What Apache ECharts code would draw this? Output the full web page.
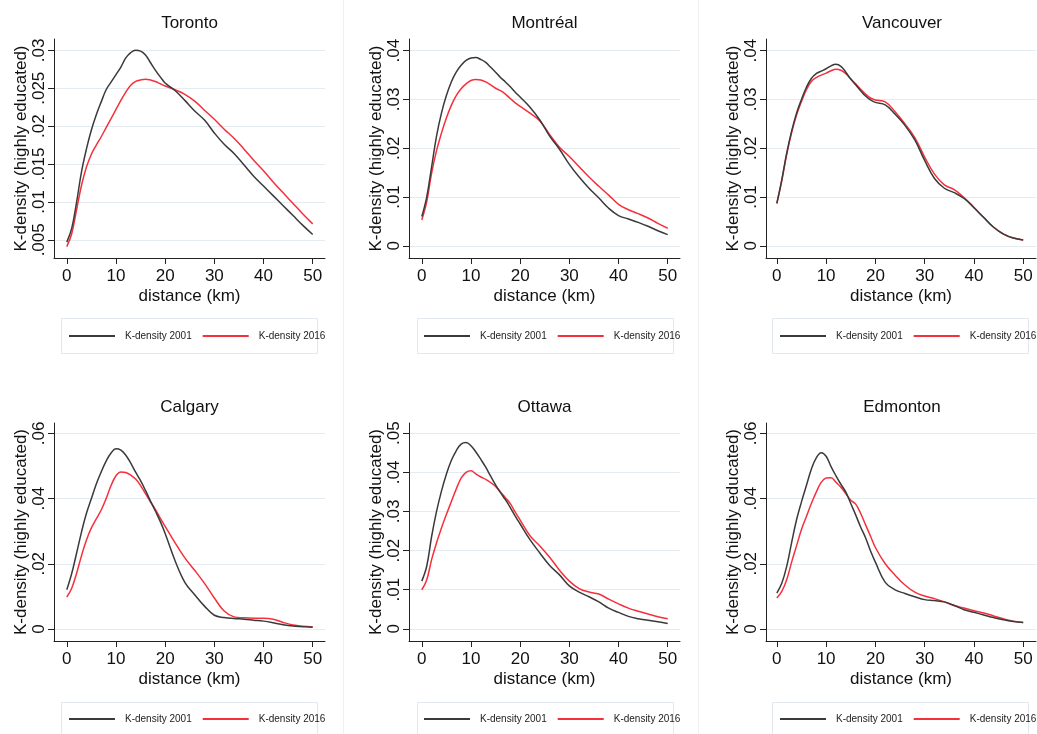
<!DOCTYPE html>
<html>
<head>
<meta charset="utf-8">
<script src="https://cdn.jsdelivr.net/npm/echarts@6/dist/echarts.min.js"></script>
<style>
  html, body { margin: 0; padding: 0; background: #ffffff; }
  #chart { width: 1037px; height: 734px; }
</style>
</head>
<body>
<div id="chart"></div>
<script>
// ---------------- DATA ----------------
const cities = ['Toronto', 'Montréal', 'Vancouver', 'Calgary', 'Ottawa', 'Edmonton'];
const seriesNames = ['K-density 2001', 'K-density 2016'];
const distances = [0,1,2,3,4,5,6,7,8,9,10,11,12,13,14,15,16,17,18,19,20,22,24,26,28,30,32,34,36,38,40,42,44,46,48,50];
const xTickValues = [0, 10, 20, 30, 40, 50];

const torontoTicks = [0.005, 0.01, 0.015, 0.02, 0.025, 0.03];
const montrealTicks = [0, 0.01, 0.02, 0.03, 0.04];
const vancouverTicks = [0, 0.01, 0.02, 0.03, 0.04];
const calgaryTicks = [0, 0.02, 0.04, 0.06];
const ottawaTicks = [0, 0.01, 0.02, 0.03, 0.04, 0.05];
const edmontonTicks = [0, 0.02, 0.04, 0.06];

const toronto2001 = [.0047,.0065,.0100,.0140,.0170,.0195,.0215,.0232,.0248,.0258,.0268,.0278,.0290,.0297,.0300,.0299,.0294,.0284,.0274,.0265,.0257,.0247,.0234,.0220,.0208,.0191,.0176,.0164,.0149,.0134,.0121,.0108,.0095,.0082,.0069,.0057];
const toronto2016 = [.0041,.0058,.0090,.0122,.0146,.0163,.0175,.0186,.0198,.0210,.0222,.0234,.0245,.0254,.0259,.0261,.0262,.0261,.0259,.0256,.0253,.0248,.0242,.0233,.0221,.0209,.0196,.0184,.0170,.0155,.0141,.0126,.0112,.0098,.0084,.0071];

const montreal2001 = [.0060,.0100,.0162,.0225,.0272,.0308,.0336,.0356,.0370,.0380,.0385,.0386,.0382,.0376,.0366,.0356,.0345,.0336,.0326,.0315,.0305,.0284,.0258,.0225,.0198,.0167,.0141,.0118,.0098,.0077,.0062,.0055,.0048,.0040,.0031,.0023];
const montreal2016 = [.0053,.0090,.0149,.0195,.0231,.0262,.0288,.0308,.0322,.0332,.0339,.0341,.0340,.0336,.0330,.0323,.0318,.0311,.0302,.0293,.0286,.0272,.0256,.0228,.0202,.0183,.0162,.0141,.0122,.0104,.0085,.0074,.0066,.0057,.0046,.0036];

const vancouver2001 = [.0087,.0135,.0190,.0235,.0272,.0300,.0325,.0343,.0353,.0358,.0363,.0369,.0372,.0368,.0356,.0342,.0330,.0318,.0307,.0299,.0294,.0289,.0270,.0247,.0217,.0175,.0138,.0118,.0109,.0097,.0078,.0058,.0038,.0024,.0016,.0012];
const vancouver2016 = [.0087,.0133,.0187,.0232,.0268,.0296,.0320,.0337,.0345,.0350,.0354,.0359,.0362,.0360,.0353,.0342,.0332,.0321,.0311,.0303,.0299,.0295,.0275,.0250,.0222,.0182,.0147,.0125,.0115,.0099,.0079,.0058,.0038,.0024,.0016,.0012];

const calgary2001 = [.0120,.0170,.0233,.0298,.0355,.0400,.0445,.0482,.0515,.0540,.0553,.0549,.0533,.0509,.0481,.0455,.0425,.0393,.0362,.0330,.0293,.0210,.0143,.0105,.0070,.0042,.0035,.0032,.0030,.0027,.0024,.0019,.0013,.0009,.0007,.0005];
const calgary2016 = [.0098,.0125,.0171,.0225,.0273,.0310,.0338,.0365,.0400,.0440,.0470,.0482,.0480,.0472,.0460,.0440,.0415,.0390,.0367,.0340,.0315,.0265,.0218,.0180,.0140,.0095,.0055,.0037,.0034,.0033,.0033,.0030,.0020,.0012,.0008,.0006];

const ottawa2001 = [.0122,.0160,.0236,.0300,.0352,.0395,.0430,.0455,.0472,.0476,.0468,.0452,.0433,.0413,.0390,.0368,.0348,.0330,.0310,.0288,.0268,.0228,.0194,.0162,.0138,.0110,.0094,.0082,.0069,.0053,.0042,.0032,.0026,.0022,.0018,.0014];
const ottawa2016 = [.0100,.0125,.0177,.0220,.0258,.0292,.0325,.0357,.0385,.0400,.0404,.0396,.0388,.0382,.0374,.0364,.0350,.0335,.0320,.0298,.0278,.0238,.0212,.0183,.0150,.0122,.0103,.0094,.0089,.0076,.0064,.0053,.0045,.0038,.0031,.0026];

const edmonton2001 = [.0110,.0140,.0192,.0265,.0335,.0390,.0440,.0490,.0525,.0541,.0530,.0498,.0470,.0444,.0420,.0385,.0350,.0313,.0280,.0240,.0205,.0143,.0120,.0109,.0099,.0090,.0087,.0083,.0072,.0059,.0051,.0043,.0035,.0028,.0023,.0020];
const edmonton2016 = [.0095,.0115,.0151,.0205,.0255,.0305,.0345,.0385,.0420,.0450,.0463,.0464,.0450,.0435,.0415,.0395,.0383,.0355,.0320,.0285,.0250,.0200,.0165,.0135,.0113,.0101,.0093,.0083,.0072,.0064,.0056,.0049,.0040,.0031,.0024,.0020];

const values2001 = [toronto2001, montreal2001, vancouver2001, calgary2001, ottawa2001, edmonton2001];
const values2016 = [toronto2016, montreal2016, vancouver2016, calgary2016, ottawa2016, edmonton2016];
const yTicks = [torontoTicks, montrealTicks, vancouverTicks, calgaryTicks, ottawaTicks, edmontonTicks];

// ---------------- LAYOUT (positions / styles only) ----------------
const panels = [
  { left: 54,  top: 39,  width: 271, height: 219, xMin: -2.6, xMax: 52.5, yMin: 0.0026,  yMax: 0.0315, legendLeft: 69,  boxLeft: 61 },
  { left: 409, top: 39,  width: 271, height: 219, xMin: -2.6, xMax: 52.5, yMin: -0.0025, yMax: 0.0424, legendLeft: 424, boxLeft: 417 },
  { left: 766, top: 39,  width: 270, height: 219, xMin: -2.2, xMax: 52.6, yMin: -0.0025, yMax: 0.0424, legendLeft: 780, boxLeft: 772 },
  { left: 54,  top: 423, width: 271, height: 218, xMin: -2.6, xMax: 52.5, yMin: -0.0037, yMax: 0.0632, legendLeft: 69,  boxLeft: 61 },
  { left: 409, top: 423, width: 271, height: 218, xMin: -2.6, xMax: 52.5, yMin: -0.0031, yMax: 0.0526, legendLeft: 424, boxLeft: 417 },
  { left: 766, top: 423, width: 270, height: 218, xMin: -2.2, xMax: 52.6, yMin: -0.0037, yMax: 0.0632, legendLeft: 780, boxLeft: 772 }
];
const FONT = 'Liberation Sans, Arial, Helvetica, sans-serif';
const COLOR_2001 = '#3a3a3a';
const COLOR_2016 = '#f5303c';
const AXIS_COLOR = '#222222';
const GRID_COLOR = '#e4ecf1';

function fmtY(v) {
  if (Math.abs(v) < 1e-12) return '0';
  return String(+v.toFixed(4)).replace(/^0\./, '.');
}

const option = {
  backgroundColor: '#ffffff',
  animation: false,
  title: [], grid: [], xAxis: [], yAxis: [], series: [], legend: [],
  graphic: []
};

option.graphic.push(
  { type: 'line', shape: { x1: 343.5, y1: 0, x2: 343.5, y2: 734 }, style: { stroke: '#eff1f3', lineWidth: 1 }, silent: true },
  { type: 'line', shape: { x1: 698.5, y1: 0, x2: 698.5, y2: 734 }, style: { stroke: '#eff1f3', lineWidth: 1 }, silent: true }
);

panels.forEach((p, i) => {
  const rowTop = p.top;
  option.title.push({
    text: cities[i],
    left: p.left + p.width / 2 + (i % 3 === 2 ? 1 : 0),
    top: rowTop - 24,
    textAlign: 'center',
    padding: 0,
    textStyle: { fontFamily: FONT, fontSize: 17, fontWeight: 'normal', color: '#111' }
  });
  option.grid.push({ left: p.left, top: p.top, width: p.width, height: p.height, containLabel: false });
  option.xAxis.push({
    type: 'value', gridIndex: i, min: p.xMin, max: p.xMax,
    name: 'distance (km)', nameLocation: 'middle', nameGap: 30,
    nameTextStyle: { fontFamily: FONT, fontSize: 17, color: '#111' },
    axisLine: { show: true, onZero: false, lineStyle: { color: AXIS_COLOR, width: 1 } },
    axisTick: { show: true, length: 6, customValues: xTickValues, lineStyle: { color: AXIS_COLOR } },
    axisLabel: { customValues: xTickValues, margin: 10, fontFamily: FONT, fontSize: 17, color: '#111' },
    splitLine: { show: false }
  });
  option.yAxis.push({
    type: 'value', gridIndex: i, min: p.yMin, max: p.yMax,
    name: 'K-density (highly educated)', nameLocation: 'middle', nameRotate: 90, nameGap: 22,
    nameTextStyle: { fontFamily: FONT, fontSize: 17, color: '#111' },
    axisLine: { show: true, onZero: false, lineStyle: { color: AXIS_COLOR, width: 1 } },
    axisTick: { show: true, length: 6, customValues: yTicks[i], lineStyle: { color: AXIS_COLOR } },
    axisLabel: { customValues: yTicks[i], rotate: 90, margin: 6, fontFamily: FONT, fontSize: 17, color: '#111', formatter: fmtY },
    splitLine: { show: true, lineStyle: { color: GRID_COLOR, width: 1 } }
  });
  [values2001[i], values2016[i]].forEach((vals, k) => {
    option.series.push({
      name: seriesNames[k], type: 'line', xAxisIndex: i, yAxisIndex: i,
      data: distances.map((d, j) => [d, vals[j]]),
      smooth: 0.4, showSymbol: false, symbol: 'none',
      color: k === 0 ? COLOR_2001 : COLOR_2016,
      lineStyle: { width: 1.5, color: k === 0 ? COLOR_2001 : COLOR_2016 },
      itemStyle: { color: k === 0 ? COLOR_2001 : COLOR_2016 },
      z: k === 0 ? 3 : 2
    });
  });
  const legendCenterY = i < 3 ? 336 : 719;
  option.legend.push({
    data: seriesNames, left: p.legendLeft, top: legendCenterY - 7, orient: 'horizontal',
    icon: 'rect', itemWidth: 46, itemHeight: 2, itemGap: 11, padding: 0,
    selectedMode: false,
    textStyle: { fontFamily: FONT, fontSize: 10, color: '#222', padding: [0, 0, 0, 5], lineHeight: 14 }
  });
  option.graphic.push({
    type: 'rect', shape: { x: p.boxLeft + 0.5, y: (i < 3 ? 318 : 702) + 0.5, width: 256, height: i < 3 ? 35 : 32 },
    style: { fill: 'none', stroke: '#e3e8ee', lineWidth: 1 }, silent: true, z: -1
  });
});

const chart = echarts.init(document.getElementById('chart'), null, { renderer: 'canvas' });
chart.setOption(option);
</script>
</body>
</html>
